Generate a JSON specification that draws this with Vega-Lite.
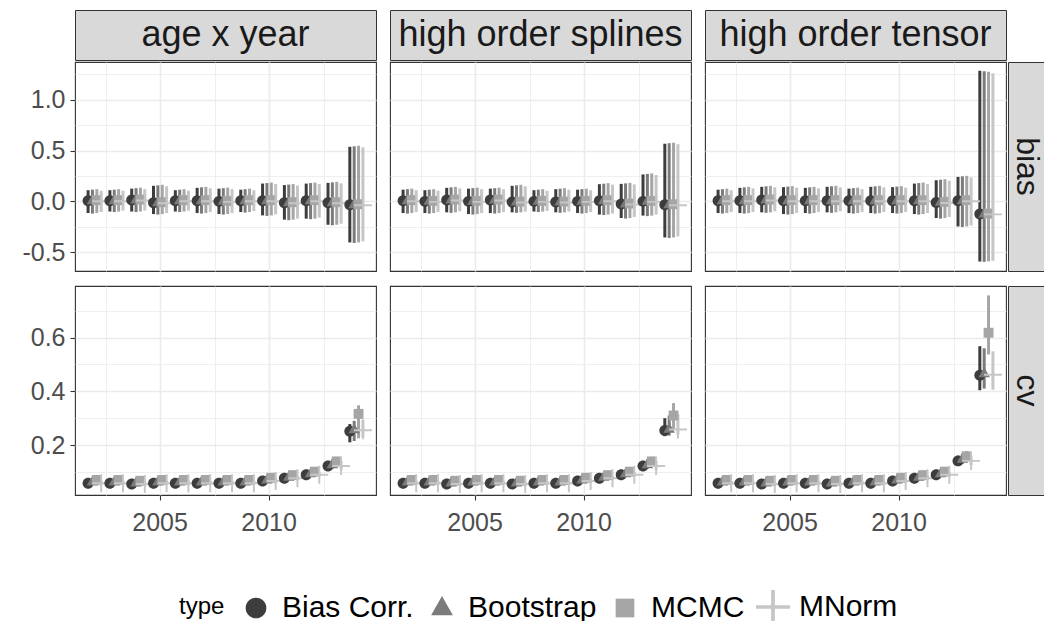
{
"$schema": "https://vega.github.io/schema/vega-lite/v6.json",
"padding": {"left": 12, "top": 9, "right": 0, "bottom": 0},
"config": {
  "font": "Liberation Sans",
  "view": {"stroke": "#333333", "strokeWidth": 1.1},
  "axis": {"gridColor": "#ebebeb", "domain": false, "labelFontSize": 25, "labelColor": "#4d4d4d", "tickColor": "#333333", "tickSize": 5, "tickWidth": 1.1, "labelPadding": 5, "labelOverlap": false, "labelFlush": false}
},
"data": {"values": [
{"m":"A","s":"bias","year":2002,"type":"Bias Corr.","est":0.007,"lo":-0.115,"hi":0.11},{"m":"A","s":"bias","year":2002,"type":"Bootstrap","est":0.01,"lo":-0.12,"hi":0.115},{"m":"A","s":"bias","year":2002,"type":"MCMC","est":0.012,"lo":-0.115,"hi":0.12},{"m":"A","s":"bias","year":2002,"type":"MNorm","est":0.002,"lo":-0.105,"hi":0.105},
{"m":"A","s":"bias","year":2003,"type":"Bias Corr.","est":0.007,"lo":-0.1,"hi":0.11},{"m":"A","s":"bias","year":2003,"type":"Bootstrap","est":0.01,"lo":-0.105,"hi":0.115},{"m":"A","s":"bias","year":2003,"type":"MCMC","est":0.012,"lo":-0.1,"hi":0.12},{"m":"A","s":"bias","year":2003,"type":"MNorm","est":0.002,"lo":-0.09,"hi":0.105},
{"m":"A","s":"bias","year":2004,"type":"Bias Corr.","est":0.013,"lo":-0.1,"hi":0.125},{"m":"A","s":"bias","year":2004,"type":"Bootstrap","est":0.016,"lo":-0.105,"hi":0.13},{"m":"A","s":"bias","year":2004,"type":"MCMC","est":0.018,"lo":-0.1,"hi":0.135},{"m":"A","s":"bias","year":2004,"type":"MNorm","est":0.008,"lo":-0.09,"hi":0.12},
{"m":"A","s":"bias","year":2005,"type":"Bias Corr.","est":-0.013,"lo":-0.125,"hi":0.153},{"m":"A","s":"bias","year":2005,"type":"Bootstrap","est":-0.01,"lo":-0.13,"hi":0.158},{"m":"A","s":"bias","year":2005,"type":"MCMC","est":-0.008,"lo":-0.125,"hi":0.163},{"m":"A","s":"bias","year":2005,"type":"MNorm","est":-0.018,"lo":-0.115,"hi":0.148},
{"m":"A","s":"bias","year":2006,"type":"Bias Corr.","est":0.007,"lo":-0.1,"hi":0.11},{"m":"A","s":"bias","year":2006,"type":"Bootstrap","est":0.01,"lo":-0.105,"hi":0.115},{"m":"A","s":"bias","year":2006,"type":"MCMC","est":0.012,"lo":-0.1,"hi":0.12},{"m":"A","s":"bias","year":2006,"type":"MNorm","est":0.002,"lo":-0.09,"hi":0.105},
{"m":"A","s":"bias","year":2007,"type":"Bias Corr.","est":0.007,"lo":-0.115,"hi":0.133},{"m":"A","s":"bias","year":2007,"type":"Bootstrap","est":0.01,"lo":-0.12,"hi":0.138},{"m":"A","s":"bias","year":2007,"type":"MCMC","est":0.012,"lo":-0.115,"hi":0.143},{"m":"A","s":"bias","year":2007,"type":"MNorm","est":0.002,"lo":-0.105,"hi":0.128},
{"m":"A","s":"bias","year":2008,"type":"Bias Corr.","est":0.0,"lo":-0.125,"hi":0.125},{"m":"A","s":"bias","year":2008,"type":"Bootstrap","est":0.003,"lo":-0.13,"hi":0.13},{"m":"A","s":"bias","year":2008,"type":"MCMC","est":0.005,"lo":-0.125,"hi":0.135},{"m":"A","s":"bias","year":2008,"type":"MNorm","est":-0.005,"lo":-0.115,"hi":0.12},
{"m":"A","s":"bias","year":2009,"type":"Bias Corr.","est":0.007,"lo":-0.105,"hi":0.115},{"m":"A","s":"bias","year":2009,"type":"Bootstrap","est":0.01,"lo":-0.11,"hi":0.12},{"m":"A","s":"bias","year":2009,"type":"MCMC","est":0.012,"lo":-0.105,"hi":0.125},{"m":"A","s":"bias","year":2009,"type":"MNorm","est":0.002,"lo":-0.095,"hi":0.11},
{"m":"A","s":"bias","year":2010,"type":"Bias Corr.","est":0.007,"lo":-0.138,"hi":0.175},{"m":"A","s":"bias","year":2010,"type":"Bootstrap","est":0.01,"lo":-0.143,"hi":0.18},{"m":"A","s":"bias","year":2010,"type":"MCMC","est":0.012,"lo":-0.138,"hi":0.185},{"m":"A","s":"bias","year":2010,"type":"MNorm","est":0.002,"lo":-0.128,"hi":0.17},
{"m":"A","s":"bias","year":2011,"type":"Bias Corr.","est":-0.013,"lo":-0.18,"hi":0.16},{"m":"A","s":"bias","year":2011,"type":"Bootstrap","est":-0.01,"lo":-0.185,"hi":0.165},{"m":"A","s":"bias","year":2011,"type":"MCMC","est":-0.008,"lo":-0.18,"hi":0.17},{"m":"A","s":"bias","year":2011,"type":"MNorm","est":-0.018,"lo":-0.17,"hi":0.155},
{"m":"A","s":"bias","year":2012,"type":"Bias Corr.","est":0.007,"lo":-0.17,"hi":0.175},{"m":"A","s":"bias","year":2012,"type":"Bootstrap","est":0.01,"lo":-0.175,"hi":0.18},{"m":"A","s":"bias","year":2012,"type":"MCMC","est":0.012,"lo":-0.17,"hi":0.185},{"m":"A","s":"bias","year":2012,"type":"MNorm","est":0.002,"lo":-0.16,"hi":0.17},
{"m":"A","s":"bias","year":2013,"type":"Bias Corr.","est":-0.013,"lo":-0.23,"hi":0.182},{"m":"A","s":"bias","year":2013,"type":"Bootstrap","est":-0.01,"lo":-0.235,"hi":0.187},{"m":"A","s":"bias","year":2013,"type":"MCMC","est":-0.008,"lo":-0.23,"hi":0.192},{"m":"A","s":"bias","year":2013,"type":"MNorm","est":-0.018,"lo":-0.22,"hi":0.177},
{"m":"A","s":"bias","year":2014,"type":"Bias Corr.","est":-0.033,"lo":-0.404,"hi":0.537},{"m":"A","s":"bias","year":2014,"type":"Bootstrap","est":-0.03,"lo":-0.409,"hi":0.542},{"m":"A","s":"bias","year":2014,"type":"MCMC","est":-0.028,"lo":-0.404,"hi":0.547},{"m":"A","s":"bias","year":2014,"type":"MNorm","est":-0.038,"lo":-0.394,"hi":0.532},
{"m":"B","s":"bias","year":2002,"type":"Bias Corr.","est":0.007,"lo":-0.115,"hi":0.115},{"m":"B","s":"bias","year":2002,"type":"Bootstrap","est":0.01,"lo":-0.12,"hi":0.12},{"m":"B","s":"bias","year":2002,"type":"MCMC","est":0.012,"lo":-0.115,"hi":0.125},{"m":"B","s":"bias","year":2002,"type":"MNorm","est":0.002,"lo":-0.105,"hi":0.11},
{"m":"B","s":"bias","year":2003,"type":"Bias Corr.","est":0.0,"lo":-0.115,"hi":0.11},{"m":"B","s":"bias","year":2003,"type":"Bootstrap","est":0.003,"lo":-0.12,"hi":0.115},{"m":"B","s":"bias","year":2003,"type":"MCMC","est":0.005,"lo":-0.115,"hi":0.12},{"m":"B","s":"bias","year":2003,"type":"MNorm","est":-0.005,"lo":-0.105,"hi":0.105},
{"m":"B","s":"bias","year":2004,"type":"Bias Corr.","est":0.013,"lo":-0.108,"hi":0.133},{"m":"B","s":"bias","year":2004,"type":"Bootstrap","est":0.016,"lo":-0.113,"hi":0.138},{"m":"B","s":"bias","year":2004,"type":"MCMC","est":0.018,"lo":-0.108,"hi":0.143},{"m":"B","s":"bias","year":2004,"type":"MNorm","est":0.008,"lo":-0.098,"hi":0.128},
{"m":"B","s":"bias","year":2005,"type":"Bias Corr.","est":0.0,"lo":-0.125,"hi":0.125},{"m":"B","s":"bias","year":2005,"type":"Bootstrap","est":0.003,"lo":-0.13,"hi":0.13},{"m":"B","s":"bias","year":2005,"type":"MCMC","est":0.005,"lo":-0.125,"hi":0.135},{"m":"B","s":"bias","year":2005,"type":"MNorm","est":-0.005,"lo":-0.115,"hi":0.12},
{"m":"B","s":"bias","year":2006,"type":"Bias Corr.","est":0.013,"lo":-0.115,"hi":0.125},{"m":"B","s":"bias","year":2006,"type":"Bootstrap","est":0.016,"lo":-0.12,"hi":0.13},{"m":"B","s":"bias","year":2006,"type":"MCMC","est":0.018,"lo":-0.115,"hi":0.135},{"m":"B","s":"bias","year":2006,"type":"MNorm","est":0.008,"lo":-0.105,"hi":0.12},
{"m":"B","s":"bias","year":2007,"type":"Bias Corr.","est":-0.007,"lo":-0.108,"hi":0.153},{"m":"B","s":"bias","year":2007,"type":"Bootstrap","est":-0.004,"lo":-0.113,"hi":0.158},{"m":"B","s":"bias","year":2007,"type":"MCMC","est":-0.002,"lo":-0.108,"hi":0.163},{"m":"B","s":"bias","year":2007,"type":"MNorm","est":-0.012,"lo":-0.098,"hi":0.148},
{"m":"B","s":"bias","year":2008,"type":"Bias Corr.","est":0.0,"lo":-0.1,"hi":0.11},{"m":"B","s":"bias","year":2008,"type":"Bootstrap","est":0.003,"lo":-0.105,"hi":0.115},{"m":"B","s":"bias","year":2008,"type":"MCMC","est":0.005,"lo":-0.1,"hi":0.12},{"m":"B","s":"bias","year":2008,"type":"MNorm","est":-0.005,"lo":-0.09,"hi":0.105},
{"m":"B","s":"bias","year":2009,"type":"Bias Corr.","est":-0.007,"lo":-0.108,"hi":0.12},{"m":"B","s":"bias","year":2009,"type":"Bootstrap","est":-0.004,"lo":-0.113,"hi":0.125},{"m":"B","s":"bias","year":2009,"type":"MCMC","est":-0.002,"lo":-0.108,"hi":0.13},{"m":"B","s":"bias","year":2009,"type":"MNorm","est":-0.012,"lo":-0.098,"hi":0.115},
{"m":"B","s":"bias","year":2010,"type":"Bias Corr.","est":0.0,"lo":-0.115,"hi":0.115},{"m":"B","s":"bias","year":2010,"type":"Bootstrap","est":0.003,"lo":-0.12,"hi":0.12},{"m":"B","s":"bias","year":2010,"type":"MCMC","est":0.005,"lo":-0.115,"hi":0.125},{"m":"B","s":"bias","year":2010,"type":"MNorm","est":-0.005,"lo":-0.105,"hi":0.11},
{"m":"B","s":"bias","year":2011,"type":"Bias Corr.","est":0.007,"lo":-0.13,"hi":0.169},{"m":"B","s":"bias","year":2011,"type":"Bootstrap","est":0.01,"lo":-0.135,"hi":0.174},{"m":"B","s":"bias","year":2011,"type":"MCMC","est":0.012,"lo":-0.13,"hi":0.179},{"m":"B","s":"bias","year":2011,"type":"MNorm","est":0.002,"lo":-0.12,"hi":0.164},
{"m":"B","s":"bias","year":2012,"type":"Bias Corr.","est":-0.026,"lo":-0.164,"hi":0.172},{"m":"B","s":"bias","year":2012,"type":"Bootstrap","est":-0.023,"lo":-0.169,"hi":0.177},{"m":"B","s":"bias","year":2012,"type":"MCMC","est":-0.021,"lo":-0.164,"hi":0.182},{"m":"B","s":"bias","year":2012,"type":"MNorm","est":-0.031,"lo":-0.154,"hi":0.167},
{"m":"B","s":"bias","year":2013,"type":"Bias Corr.","est":0.0,"lo":-0.14,"hi":0.265},{"m":"B","s":"bias","year":2013,"type":"Bootstrap","est":0.003,"lo":-0.145,"hi":0.27},{"m":"B","s":"bias","year":2013,"type":"MCMC","est":0.005,"lo":-0.14,"hi":0.275},{"m":"B","s":"bias","year":2013,"type":"MNorm","est":-0.005,"lo":-0.13,"hi":0.26},
{"m":"B","s":"bias","year":2014,"type":"Bias Corr.","est":-0.033,"lo":-0.355,"hi":0.567},{"m":"B","s":"bias","year":2014,"type":"Bootstrap","est":-0.03,"lo":-0.36,"hi":0.572},{"m":"B","s":"bias","year":2014,"type":"MCMC","est":-0.028,"lo":-0.355,"hi":0.577},{"m":"B","s":"bias","year":2014,"type":"MNorm","est":-0.038,"lo":-0.345,"hi":0.562},
{"m":"C","s":"bias","year":2002,"type":"Bias Corr.","est":0.007,"lo":-0.115,"hi":0.115},{"m":"C","s":"bias","year":2002,"type":"Bootstrap","est":0.01,"lo":-0.12,"hi":0.12},{"m":"C","s":"bias","year":2002,"type":"MCMC","est":0.012,"lo":-0.115,"hi":0.125},{"m":"C","s":"bias","year":2002,"type":"MNorm","est":0.002,"lo":-0.105,"hi":0.11},
{"m":"C","s":"bias","year":2003,"type":"Bias Corr.","est":0.007,"lo":-0.115,"hi":0.133},{"m":"C","s":"bias","year":2003,"type":"Bootstrap","est":0.01,"lo":-0.12,"hi":0.138},{"m":"C","s":"bias","year":2003,"type":"MCMC","est":0.012,"lo":-0.115,"hi":0.143},{"m":"C","s":"bias","year":2003,"type":"MNorm","est":0.002,"lo":-0.105,"hi":0.128},
{"m":"C","s":"bias","year":2004,"type":"Bias Corr.","est":0.013,"lo":-0.108,"hi":0.143},{"m":"C","s":"bias","year":2004,"type":"Bootstrap","est":0.016,"lo":-0.113,"hi":0.148},{"m":"C","s":"bias","year":2004,"type":"MCMC","est":0.018,"lo":-0.108,"hi":0.153},{"m":"C","s":"bias","year":2004,"type":"MNorm","est":0.008,"lo":-0.098,"hi":0.138},
{"m":"C","s":"bias","year":2005,"type":"Bias Corr.","est":0.007,"lo":-0.125,"hi":0.14},{"m":"C","s":"bias","year":2005,"type":"Bootstrap","est":0.01,"lo":-0.13,"hi":0.145},{"m":"C","s":"bias","year":2005,"type":"MCMC","est":0.012,"lo":-0.125,"hi":0.15},{"m":"C","s":"bias","year":2005,"type":"MNorm","est":0.002,"lo":-0.115,"hi":0.135},
{"m":"C","s":"bias","year":2006,"type":"Bias Corr.","est":0.007,"lo":-0.115,"hi":0.133},{"m":"C","s":"bias","year":2006,"type":"Bootstrap","est":0.01,"lo":-0.12,"hi":0.138},{"m":"C","s":"bias","year":2006,"type":"MCMC","est":0.012,"lo":-0.115,"hi":0.143},{"m":"C","s":"bias","year":2006,"type":"MNorm","est":0.002,"lo":-0.105,"hi":0.128},
{"m":"C","s":"bias","year":2007,"type":"Bias Corr.","est":0.007,"lo":-0.108,"hi":0.143},{"m":"C","s":"bias","year":2007,"type":"Bootstrap","est":0.01,"lo":-0.113,"hi":0.148},{"m":"C","s":"bias","year":2007,"type":"MCMC","est":0.012,"lo":-0.108,"hi":0.153},{"m":"C","s":"bias","year":2007,"type":"MNorm","est":0.002,"lo":-0.098,"hi":0.138},
{"m":"C","s":"bias","year":2008,"type":"Bias Corr.","est":0.007,"lo":-0.115,"hi":0.125},{"m":"C","s":"bias","year":2008,"type":"Bootstrap","est":0.01,"lo":-0.12,"hi":0.13},{"m":"C","s":"bias","year":2008,"type":"MCMC","est":0.012,"lo":-0.115,"hi":0.135},{"m":"C","s":"bias","year":2008,"type":"MNorm","est":0.002,"lo":-0.105,"hi":0.12},
{"m":"C","s":"bias","year":2009,"type":"Bias Corr.","est":0.007,"lo":-0.115,"hi":0.143},{"m":"C","s":"bias","year":2009,"type":"Bootstrap","est":0.01,"lo":-0.12,"hi":0.148},{"m":"C","s":"bias","year":2009,"type":"MCMC","est":0.012,"lo":-0.115,"hi":0.153},{"m":"C","s":"bias","year":2009,"type":"MNorm","est":0.002,"lo":-0.105,"hi":0.138},
{"m":"C","s":"bias","year":2010,"type":"Bias Corr.","est":0.007,"lo":-0.115,"hi":0.14},{"m":"C","s":"bias","year":2010,"type":"Bootstrap","est":0.01,"lo":-0.12,"hi":0.145},{"m":"C","s":"bias","year":2010,"type":"MCMC","est":0.012,"lo":-0.115,"hi":0.15},{"m":"C","s":"bias","year":2010,"type":"MNorm","est":0.002,"lo":-0.105,"hi":0.135},
{"m":"C","s":"bias","year":2011,"type":"Bias Corr.","est":0.007,"lo":-0.125,"hi":0.175},{"m":"C","s":"bias","year":2011,"type":"Bootstrap","est":0.01,"lo":-0.13,"hi":0.18},{"m":"C","s":"bias","year":2011,"type":"MCMC","est":0.012,"lo":-0.125,"hi":0.185},{"m":"C","s":"bias","year":2011,"type":"MNorm","est":0.002,"lo":-0.115,"hi":0.17},
{"m":"C","s":"bias","year":2012,"type":"Bias Corr.","est":-0.01,"lo":-0.164,"hi":0.208},{"m":"C","s":"bias","year":2012,"type":"Bootstrap","est":-0.007,"lo":-0.169,"hi":0.213},{"m":"C","s":"bias","year":2012,"type":"MCMC","est":-0.005,"lo":-0.164,"hi":0.218},{"m":"C","s":"bias","year":2012,"type":"MNorm","est":-0.015,"lo":-0.154,"hi":0.203},
{"m":"C","s":"bias","year":2013,"type":"Bias Corr.","est":0.007,"lo":-0.247,"hi":0.241},{"m":"C","s":"bias","year":2013,"type":"Bootstrap","est":0.01,"lo":-0.252,"hi":0.246},{"m":"C","s":"bias","year":2013,"type":"MCMC","est":0.012,"lo":-0.247,"hi":0.251},{"m":"C","s":"bias","year":2013,"type":"MNorm","est":0.002,"lo":-0.237,"hi":0.236},
{"m":"C","s":"bias","year":2014,"type":"Bias Corr.","est":-0.125,"lo":-0.592,"hi":1.285},{"m":"C","s":"bias","year":2014,"type":"Bootstrap","est":-0.122,"lo":-0.595,"hi":1.28},{"m":"C","s":"bias","year":2014,"type":"MCMC","est":-0.12,"lo":-0.59,"hi":1.275},{"m":"C","s":"bias","year":2014,"type":"MNorm","est":-0.128,"lo":-0.585,"hi":1.26},
{"m":"A","s":"cv","year":2002,"type":"Bias Corr.","est":0.058,"lo":0.05,"hi":0.066},{"m":"A","s":"cv","year":2002,"type":"Bootstrap","est":0.063,"lo":0.054,"hi":0.072},{"m":"A","s":"cv","year":2002,"type":"MCMC","est":0.07,"lo":0.061,"hi":0.079},{"m":"A","s":"cv","year":2002,"type":"MNorm","est":0.058,"lo":0.051,"hi":0.067},
{"m":"A","s":"cv","year":2003,"type":"Bias Corr.","est":0.058,"lo":0.05,"hi":0.066},{"m":"A","s":"cv","year":2003,"type":"Bootstrap","est":0.063,"lo":0.054,"hi":0.072},{"m":"A","s":"cv","year":2003,"type":"MCMC","est":0.07,"lo":0.061,"hi":0.079},{"m":"A","s":"cv","year":2003,"type":"MNorm","est":0.058,"lo":0.051,"hi":0.067},
{"m":"A","s":"cv","year":2004,"type":"Bias Corr.","est":0.055,"lo":0.047,"hi":0.063},{"m":"A","s":"cv","year":2004,"type":"Bootstrap","est":0.06,"lo":0.051,"hi":0.069},{"m":"A","s":"cv","year":2004,"type":"MCMC","est":0.067,"lo":0.058,"hi":0.076},{"m":"A","s":"cv","year":2004,"type":"MNorm","est":0.055,"lo":0.048,"hi":0.064},
{"m":"A","s":"cv","year":2005,"type":"Bias Corr.","est":0.058,"lo":0.05,"hi":0.066},{"m":"A","s":"cv","year":2005,"type":"Bootstrap","est":0.063,"lo":0.054,"hi":0.072},{"m":"A","s":"cv","year":2005,"type":"MCMC","est":0.07,"lo":0.061,"hi":0.079},{"m":"A","s":"cv","year":2005,"type":"MNorm","est":0.058,"lo":0.051,"hi":0.067},
{"m":"A","s":"cv","year":2006,"type":"Bias Corr.","est":0.058,"lo":0.05,"hi":0.066},{"m":"A","s":"cv","year":2006,"type":"Bootstrap","est":0.063,"lo":0.054,"hi":0.072},{"m":"A","s":"cv","year":2006,"type":"MCMC","est":0.07,"lo":0.061,"hi":0.079},{"m":"A","s":"cv","year":2006,"type":"MNorm","est":0.058,"lo":0.051,"hi":0.067},
{"m":"A","s":"cv","year":2007,"type":"Bias Corr.","est":0.058,"lo":0.05,"hi":0.066},{"m":"A","s":"cv","year":2007,"type":"Bootstrap","est":0.063,"lo":0.054,"hi":0.072},{"m":"A","s":"cv","year":2007,"type":"MCMC","est":0.07,"lo":0.061,"hi":0.079},{"m":"A","s":"cv","year":2007,"type":"MNorm","est":0.058,"lo":0.051,"hi":0.067},
{"m":"A","s":"cv","year":2008,"type":"Bias Corr.","est":0.058,"lo":0.05,"hi":0.066},{"m":"A","s":"cv","year":2008,"type":"Bootstrap","est":0.063,"lo":0.054,"hi":0.072},{"m":"A","s":"cv","year":2008,"type":"MCMC","est":0.07,"lo":0.061,"hi":0.079},{"m":"A","s":"cv","year":2008,"type":"MNorm","est":0.058,"lo":0.051,"hi":0.067},
{"m":"A","s":"cv","year":2009,"type":"Bias Corr.","est":0.058,"lo":0.05,"hi":0.066},{"m":"A","s":"cv","year":2009,"type":"Bootstrap","est":0.063,"lo":0.054,"hi":0.072},{"m":"A","s":"cv","year":2009,"type":"MCMC","est":0.07,"lo":0.061,"hi":0.079},{"m":"A","s":"cv","year":2009,"type":"MNorm","est":0.058,"lo":0.051,"hi":0.067},
{"m":"A","s":"cv","year":2010,"type":"Bias Corr.","est":0.066,"lo":0.058,"hi":0.074},{"m":"A","s":"cv","year":2010,"type":"Bootstrap","est":0.071,"lo":0.062,"hi":0.08},{"m":"A","s":"cv","year":2010,"type":"MCMC","est":0.078,"lo":0.069,"hi":0.087},{"m":"A","s":"cv","year":2010,"type":"MNorm","est":0.066,"lo":0.059,"hi":0.075},
{"m":"A","s":"cv","year":2011,"type":"Bias Corr.","est":0.076,"lo":0.068,"hi":0.084},{"m":"A","s":"cv","year":2011,"type":"Bootstrap","est":0.081,"lo":0.072,"hi":0.09},{"m":"A","s":"cv","year":2011,"type":"MCMC","est":0.088,"lo":0.079,"hi":0.097},{"m":"A","s":"cv","year":2011,"type":"MNorm","est":0.076,"lo":0.069,"hi":0.085},
{"m":"A","s":"cv","year":2012,"type":"Bias Corr.","est":0.089,"lo":0.081,"hi":0.097},{"m":"A","s":"cv","year":2012,"type":"Bootstrap","est":0.094,"lo":0.085,"hi":0.103},{"m":"A","s":"cv","year":2012,"type":"MCMC","est":0.101,"lo":0.092,"hi":0.11},{"m":"A","s":"cv","year":2012,"type":"MNorm","est":0.089,"lo":0.082,"hi":0.098},
{"m":"A","s":"cv","year":2013,"type":"Bias Corr.","est":0.122,"lo":0.107,"hi":0.138},{"m":"A","s":"cv","year":2013,"type":"Bootstrap","est":0.128,"lo":0.112,"hi":0.146},{"m":"A","s":"cv","year":2013,"type":"MCMC","est":0.139,"lo":0.122,"hi":0.156},{"m":"A","s":"cv","year":2013,"type":"MNorm","est":0.122,"lo":0.108,"hi":0.14},
{"m":"A","s":"cv","year":2014,"type":"Bias Corr.","est":0.251,"lo":0.21,"hi":0.278},{"m":"A","s":"cv","year":2014,"type":"Bootstrap","est":0.258,"lo":0.215,"hi":0.29},{"m":"A","s":"cv","year":2014,"type":"MCMC","est":0.316,"lo":0.225,"hi":0.348},{"m":"A","s":"cv","year":2014,"type":"MNorm","est":0.255,"lo":0.23,"hi":0.295},
{"m":"B","s":"cv","year":2002,"type":"Bias Corr.","est":0.058,"lo":0.05,"hi":0.066},{"m":"B","s":"cv","year":2002,"type":"Bootstrap","est":0.063,"lo":0.054,"hi":0.072},{"m":"B","s":"cv","year":2002,"type":"MCMC","est":0.07,"lo":0.061,"hi":0.079},{"m":"B","s":"cv","year":2002,"type":"MNorm","est":0.058,"lo":0.051,"hi":0.067},
{"m":"B","s":"cv","year":2003,"type":"Bias Corr.","est":0.058,"lo":0.05,"hi":0.066},{"m":"B","s":"cv","year":2003,"type":"Bootstrap","est":0.063,"lo":0.054,"hi":0.072},{"m":"B","s":"cv","year":2003,"type":"MCMC","est":0.07,"lo":0.061,"hi":0.079},{"m":"B","s":"cv","year":2003,"type":"MNorm","est":0.058,"lo":0.051,"hi":0.067},
{"m":"B","s":"cv","year":2004,"type":"Bias Corr.","est":0.055,"lo":0.047,"hi":0.063},{"m":"B","s":"cv","year":2004,"type":"Bootstrap","est":0.06,"lo":0.051,"hi":0.069},{"m":"B","s":"cv","year":2004,"type":"MCMC","est":0.067,"lo":0.058,"hi":0.076},{"m":"B","s":"cv","year":2004,"type":"MNorm","est":0.055,"lo":0.048,"hi":0.064},
{"m":"B","s":"cv","year":2005,"type":"Bias Corr.","est":0.058,"lo":0.05,"hi":0.066},{"m":"B","s":"cv","year":2005,"type":"Bootstrap","est":0.063,"lo":0.054,"hi":0.072},{"m":"B","s":"cv","year":2005,"type":"MCMC","est":0.07,"lo":0.061,"hi":0.079},{"m":"B","s":"cv","year":2005,"type":"MNorm","est":0.058,"lo":0.051,"hi":0.067},
{"m":"B","s":"cv","year":2006,"type":"Bias Corr.","est":0.058,"lo":0.05,"hi":0.066},{"m":"B","s":"cv","year":2006,"type":"Bootstrap","est":0.063,"lo":0.054,"hi":0.072},{"m":"B","s":"cv","year":2006,"type":"MCMC","est":0.07,"lo":0.061,"hi":0.079},{"m":"B","s":"cv","year":2006,"type":"MNorm","est":0.058,"lo":0.051,"hi":0.067},
{"m":"B","s":"cv","year":2007,"type":"Bias Corr.","est":0.055,"lo":0.047,"hi":0.063},{"m":"B","s":"cv","year":2007,"type":"Bootstrap","est":0.06,"lo":0.051,"hi":0.069},{"m":"B","s":"cv","year":2007,"type":"MCMC","est":0.067,"lo":0.058,"hi":0.076},{"m":"B","s":"cv","year":2007,"type":"MNorm","est":0.055,"lo":0.048,"hi":0.064},
{"m":"B","s":"cv","year":2008,"type":"Bias Corr.","est":0.058,"lo":0.05,"hi":0.066},{"m":"B","s":"cv","year":2008,"type":"Bootstrap","est":0.063,"lo":0.054,"hi":0.072},{"m":"B","s":"cv","year":2008,"type":"MCMC","est":0.07,"lo":0.061,"hi":0.079},{"m":"B","s":"cv","year":2008,"type":"MNorm","est":0.058,"lo":0.051,"hi":0.067},
{"m":"B","s":"cv","year":2009,"type":"Bias Corr.","est":0.058,"lo":0.05,"hi":0.066},{"m":"B","s":"cv","year":2009,"type":"Bootstrap","est":0.063,"lo":0.054,"hi":0.072},{"m":"B","s":"cv","year":2009,"type":"MCMC","est":0.07,"lo":0.061,"hi":0.079},{"m":"B","s":"cv","year":2009,"type":"MNorm","est":0.058,"lo":0.051,"hi":0.067},
{"m":"B","s":"cv","year":2010,"type":"Bias Corr.","est":0.066,"lo":0.058,"hi":0.074},{"m":"B","s":"cv","year":2010,"type":"Bootstrap","est":0.071,"lo":0.062,"hi":0.08},{"m":"B","s":"cv","year":2010,"type":"MCMC","est":0.078,"lo":0.069,"hi":0.087},{"m":"B","s":"cv","year":2010,"type":"MNorm","est":0.066,"lo":0.059,"hi":0.075},
{"m":"B","s":"cv","year":2011,"type":"Bias Corr.","est":0.076,"lo":0.068,"hi":0.084},{"m":"B","s":"cv","year":2011,"type":"Bootstrap","est":0.081,"lo":0.072,"hi":0.09},{"m":"B","s":"cv","year":2011,"type":"MCMC","est":0.088,"lo":0.079,"hi":0.097},{"m":"B","s":"cv","year":2011,"type":"MNorm","est":0.076,"lo":0.069,"hi":0.085},
{"m":"B","s":"cv","year":2012,"type":"Bias Corr.","est":0.089,"lo":0.081,"hi":0.097},{"m":"B","s":"cv","year":2012,"type":"Bootstrap","est":0.094,"lo":0.085,"hi":0.103},{"m":"B","s":"cv","year":2012,"type":"MCMC","est":0.101,"lo":0.092,"hi":0.11},{"m":"B","s":"cv","year":2012,"type":"MNorm","est":0.089,"lo":0.082,"hi":0.098},
{"m":"B","s":"cv","year":2013,"type":"Bias Corr.","est":0.122,"lo":0.107,"hi":0.138},{"m":"B","s":"cv","year":2013,"type":"Bootstrap","est":0.128,"lo":0.112,"hi":0.146},{"m":"B","s":"cv","year":2013,"type":"MCMC","est":0.139,"lo":0.122,"hi":0.156},{"m":"B","s":"cv","year":2013,"type":"MNorm","est":0.122,"lo":0.108,"hi":0.14},
{"m":"B","s":"cv","year":2014,"type":"Bias Corr.","est":0.254,"lo":0.233,"hi":0.3},{"m":"B","s":"cv","year":2014,"type":"Bootstrap","est":0.26,"lo":0.235,"hi":0.31},{"m":"B","s":"cv","year":2014,"type":"MCMC","est":0.31,"lo":0.257,"hi":0.356},{"m":"B","s":"cv","year":2014,"type":"MNorm","est":0.258,"lo":0.24,"hi":0.315},
{"m":"C","s":"cv","year":2002,"type":"Bias Corr.","est":0.058,"lo":0.05,"hi":0.066},{"m":"C","s":"cv","year":2002,"type":"Bootstrap","est":0.063,"lo":0.054,"hi":0.072},{"m":"C","s":"cv","year":2002,"type":"MCMC","est":0.07,"lo":0.061,"hi":0.079},{"m":"C","s":"cv","year":2002,"type":"MNorm","est":0.058,"lo":0.051,"hi":0.067},
{"m":"C","s":"cv","year":2003,"type":"Bias Corr.","est":0.058,"lo":0.05,"hi":0.066},{"m":"C","s":"cv","year":2003,"type":"Bootstrap","est":0.063,"lo":0.054,"hi":0.072},{"m":"C","s":"cv","year":2003,"type":"MCMC","est":0.07,"lo":0.061,"hi":0.079},{"m":"C","s":"cv","year":2003,"type":"MNorm","est":0.058,"lo":0.051,"hi":0.067},
{"m":"C","s":"cv","year":2004,"type":"Bias Corr.","est":0.055,"lo":0.047,"hi":0.063},{"m":"C","s":"cv","year":2004,"type":"Bootstrap","est":0.06,"lo":0.051,"hi":0.069},{"m":"C","s":"cv","year":2004,"type":"MCMC","est":0.067,"lo":0.058,"hi":0.076},{"m":"C","s":"cv","year":2004,"type":"MNorm","est":0.055,"lo":0.048,"hi":0.064},
{"m":"C","s":"cv","year":2005,"type":"Bias Corr.","est":0.058,"lo":0.05,"hi":0.066},{"m":"C","s":"cv","year":2005,"type":"Bootstrap","est":0.063,"lo":0.054,"hi":0.072},{"m":"C","s":"cv","year":2005,"type":"MCMC","est":0.07,"lo":0.061,"hi":0.079},{"m":"C","s":"cv","year":2005,"type":"MNorm","est":0.058,"lo":0.051,"hi":0.067},
{"m":"C","s":"cv","year":2006,"type":"Bias Corr.","est":0.058,"lo":0.05,"hi":0.066},{"m":"C","s":"cv","year":2006,"type":"Bootstrap","est":0.063,"lo":0.054,"hi":0.072},{"m":"C","s":"cv","year":2006,"type":"MCMC","est":0.07,"lo":0.061,"hi":0.079},{"m":"C","s":"cv","year":2006,"type":"MNorm","est":0.058,"lo":0.051,"hi":0.067},
{"m":"C","s":"cv","year":2007,"type":"Bias Corr.","est":0.055,"lo":0.047,"hi":0.063},{"m":"C","s":"cv","year":2007,"type":"Bootstrap","est":0.06,"lo":0.051,"hi":0.069},{"m":"C","s":"cv","year":2007,"type":"MCMC","est":0.067,"lo":0.058,"hi":0.076},{"m":"C","s":"cv","year":2007,"type":"MNorm","est":0.055,"lo":0.048,"hi":0.064},
{"m":"C","s":"cv","year":2008,"type":"Bias Corr.","est":0.058,"lo":0.05,"hi":0.066},{"m":"C","s":"cv","year":2008,"type":"Bootstrap","est":0.063,"lo":0.054,"hi":0.072},{"m":"C","s":"cv","year":2008,"type":"MCMC","est":0.07,"lo":0.061,"hi":0.079},{"m":"C","s":"cv","year":2008,"type":"MNorm","est":0.058,"lo":0.051,"hi":0.067},
{"m":"C","s":"cv","year":2009,"type":"Bias Corr.","est":0.058,"lo":0.05,"hi":0.066},{"m":"C","s":"cv","year":2009,"type":"Bootstrap","est":0.063,"lo":0.054,"hi":0.072},{"m":"C","s":"cv","year":2009,"type":"MCMC","est":0.07,"lo":0.061,"hi":0.079},{"m":"C","s":"cv","year":2009,"type":"MNorm","est":0.058,"lo":0.051,"hi":0.067},
{"m":"C","s":"cv","year":2010,"type":"Bias Corr.","est":0.066,"lo":0.058,"hi":0.074},{"m":"C","s":"cv","year":2010,"type":"Bootstrap","est":0.071,"lo":0.062,"hi":0.08},{"m":"C","s":"cv","year":2010,"type":"MCMC","est":0.078,"lo":0.069,"hi":0.087},{"m":"C","s":"cv","year":2010,"type":"MNorm","est":0.066,"lo":0.059,"hi":0.075},
{"m":"C","s":"cv","year":2011,"type":"Bias Corr.","est":0.076,"lo":0.068,"hi":0.084},{"m":"C","s":"cv","year":2011,"type":"Bootstrap","est":0.081,"lo":0.072,"hi":0.09},{"m":"C","s":"cv","year":2011,"type":"MCMC","est":0.088,"lo":0.079,"hi":0.097},{"m":"C","s":"cv","year":2011,"type":"MNorm","est":0.076,"lo":0.069,"hi":0.085},
{"m":"C","s":"cv","year":2012,"type":"Bias Corr.","est":0.089,"lo":0.081,"hi":0.097},{"m":"C","s":"cv","year":2012,"type":"Bootstrap","est":0.094,"lo":0.085,"hi":0.103},{"m":"C","s":"cv","year":2012,"type":"MCMC","est":0.101,"lo":0.092,"hi":0.11},{"m":"C","s":"cv","year":2012,"type":"MNorm","est":0.089,"lo":0.082,"hi":0.098},
{"m":"C","s":"cv","year":2013,"type":"Bias Corr.","est":0.141,"lo":0.125,"hi":0.16},{"m":"C","s":"cv","year":2013,"type":"Bootstrap","est":0.148,"lo":0.13,"hi":0.168},{"m":"C","s":"cv","year":2013,"type":"MCMC","est":0.158,"lo":0.138,"hi":0.178},{"m":"C","s":"cv","year":2013,"type":"MNorm","est":0.141,"lo":0.125,"hi":0.16},
{"m":"C","s":"cv","year":2014,"type":"Bias Corr.","est":0.46,"lo":0.404,"hi":0.568},{"m":"C","s":"cv","year":2014,"type":"Bootstrap","est":0.466,"lo":0.41,"hi":0.56},{"m":"C","s":"cv","year":2014,"type":"MCMC","est":0.618,"lo":0.537,"hi":0.757},{"m":"C","s":"cv","year":2014,"type":"MNorm","est":0.462,"lo":0.406,"hi":0.549}
]},
"spacing": 0,
"vconcat": [
 {"hconcat": [
   {"width": 301, "height": 50, "view": {"fill": "#d9d9d9", "stroke": "#333333"}, "data": {"values": [{"label": "age x year"}]}, "mark": {"type": "text", "fontSize": 36, "color": "#1a1a1a", "baseline": "middle"}, "encoding": {"text": {"field": "label"}}},
   {"width": 12, "height": 50, "data": {"values": []}, "mark": "text", "encoding": {}, "view": {"stroke": null}},
   {"width": 301, "height": 50, "view": {"fill": "#d9d9d9", "stroke": "#333333"}, "data": {"values": [{"label": "high order splines"}]}, "mark": {"type": "text", "fontSize": 36, "color": "#1a1a1a", "baseline": "middle"}, "encoding": {"text": {"field": "label"}}},
   {"width": 12, "height": 50, "data": {"values": []}, "mark": "text", "encoding": {}, "view": {"stroke": null}},
   {"width": 301, "height": 50, "view": {"fill": "#d9d9d9", "stroke": "#333333"}, "data": {"values": [{"label": "high order tensor"}]}, "mark": {"type": "text", "fontSize": 36, "color": "#1a1a1a", "baseline": "middle"}, "encoding": {"text": {"field": "label"}}}
 ], "spacing": 0},
 {"hconcat": [
   {"width": 301, "height": 209,
    "transform": [{"filter": "datum.m === 'A' && datum.s === 'bias'"}],
    "resolve": {"scale": {"x": "independent"}, "axis": {"x": "independent"}},
    "layer": [
      {"mark": {"type": "rule", "opacity": 0}, "encoding": {"x": {"field": "year", "type": "quantitative", "scale": {"domain": [2001.1, 2014.9], "nice": false, "zero": false}, "axis": {"orient": "top", "values": [2002.5, 2005, 2007.5, 2010, 2012.5], "grid": true, "gridWidth": {"condition": {"test": "datum.value % 5 === 0", "value": 1.6}, "value": 0.8}, "labels": false, "ticks": false, "domain": false, "title": null, "minExtent": 0, "maxExtent": 0}}}},
      {"mark": {"type": "rule", "strokeWidth": 3}, "encoding": {
        "x": {"field": "year", "type": "ordinal", "scale": {"type": "band", "domain": [2002,2003,2004,2005,2006,2007,2008,2009,2010,2011,2012,2013,2014], "paddingInner": 0, "paddingOuter": 0.4}, "axis": null},
        "xOffset": {"field": "type", "type": "nominal", "scale": {"type": "point", "domain": ["Bias Corr.", "Bootstrap", "MCMC", "MNorm"], "padding": 2.135}},
        "y": {"field": "lo", "type": "quantitative", "scale": {"domain": [-0.685, 1.371], "nice": false, "zero": false}, "axis": {"values": [-0.5, -0.25, 0, 0.25, 0.5, 0.75, 1, 1.25], "grid": true, "gridWidth": {"condition": {"test": "datum.value % 0.5 === 0", "value": 1.6}, "value": 0.8}, "labelExpr": "datum.value % 0.5 === 0 ? (datum.value < 0 ? '-' : '') + format(abs(datum.value), '.1f') : ''", "tickOpacity": {"condition": {"test": "datum.value % 0.5 === 0", "value": 1}, "value": 0}, "title": null, "minExtent": 62, "maxExtent": 62}},
        "y2": {"field": "hi"},
        "stroke": {"field": "type", "type": "nominal", "scale": {"domain": ["MNorm", "MCMC", "Bootstrap", "Bias Corr."], "range": ["#c6c6c6", "#a5a5a5", "#7b7b7b", "#3d3d3d"]}, "legend": null}}},
      {"mark": {"type": "point", "filled": true, "opacity": 1, "size": 324}, "encoding": {
        "x": {"field": "year", "type": "ordinal", "scale": {"type": "band", "domain": [2002,2003,2004,2005,2006,2007,2008,2009,2010,2011,2012,2013,2014], "paddingInner": 0, "paddingOuter": 0.4}, "axis": null},
        "xOffset": {"field": "type", "type": "nominal", "scale": {"type": "point", "domain": ["Bias Corr.", "Bootstrap", "MCMC", "MNorm"], "padding": 2.135}},
        "y": {"field": "est", "type": "quantitative", "scale": {"domain": [-0.685, 1.371], "nice": false, "zero": false}, "axis": {"values": [-0.5, -0.25, 0, 0.25, 0.5, 0.75, 1, 1.25], "grid": true, "gridWidth": {"condition": {"test": "datum.value % 0.5 === 0", "value": 1.6}, "value": 0.8}, "labelExpr": "datum.value % 0.5 === 0 ? (datum.value < 0 ? '-' : '') + format(abs(datum.value), '.1f') : ''", "tickOpacity": {"condition": {"test": "datum.value % 0.5 === 0", "value": 1}, "value": 0}, "title": null, "minExtent": 62, "maxExtent": 62}},
        "color": {"field": "type", "type": "nominal", "scale": {"domain": ["Bias Corr.", "Bootstrap", "MCMC", "MNorm"], "range": ["#3d3d3d", "#7b7b7b", "#a5a5a5", "#c6c6c6"]},
          "legend": {"title": "type", "orient": "none", "legendX": 104, "legendY": 579, "direction": "horizontal", "titleOrient": "left", "titleFontSize": 24, "titleFontWeight": "normal", "titleColor": "#000000", "titlePadding": 13, "labelFontSize": 30, "labelColor": "#000000", "labelOffset": 8, "symbolSize": 1156, "columnPadding": 10}},
        "shape": {"field": "type", "type": "nominal", "scale": {"domain": ["Bias Corr.", "Bootstrap", "MCMC", "MNorm"], "range": ["M-0.61,0A0.61,0.61 0 1,1 0.61,0A0.61,0.61 0 1,1 -0.61,0Z", "M0,-0.7L0.64,0.42L-0.64,0.42Z", "M-0.55,-0.55H0.55V0.55H-0.55Z", "M-1,-0.11H1V0.11H-1ZM-0.11,-1H0.11V1H-0.11Z"]},
          "legend": {"title": "type", "orient": "none", "legendX": 104, "legendY": 579, "direction": "horizontal", "titleOrient": "left", "titleFontSize": 24, "titleFontWeight": "normal", "titleColor": "#000000", "titlePadding": 13, "labelFontSize": 30, "labelColor": "#000000", "labelOffset": 8, "symbolSize": 1156, "columnPadding": 10}}}}
    ]},
   {"width": 12, "height": 209, "data": {"values": []}, "mark": "text", "encoding": {}, "view": {"stroke": null}},
   {"width": 301, "height": 209,
    "transform": [{"filter": "datum.m === 'B' && datum.s === 'bias'"}],
    "resolve": {"scale": {"x": "independent"}, "axis": {"x": "independent"}},
    "layer": [
      {"mark": {"type": "rule", "opacity": 0}, "encoding": {"x": {"field": "year", "type": "quantitative", "scale": {"domain": [2001.1, 2014.9], "nice": false, "zero": false}, "axis": {"orient": "top", "values": [2002.5, 2005, 2007.5, 2010, 2012.5], "grid": true, "gridWidth": {"condition": {"test": "datum.value % 5 === 0", "value": 1.6}, "value": 0.8}, "labels": false, "ticks": false, "domain": false, "title": null, "minExtent": 0, "maxExtent": 0}}}},
      {"mark": {"type": "rule", "strokeWidth": 3}, "encoding": {
        "x": {"field": "year", "type": "ordinal", "scale": {"type": "band", "domain": [2002,2003,2004,2005,2006,2007,2008,2009,2010,2011,2012,2013,2014], "paddingInner": 0, "paddingOuter": 0.4}, "axis": null},
        "xOffset": {"field": "type", "type": "nominal", "scale": {"type": "point", "domain": ["Bias Corr.", "Bootstrap", "MCMC", "MNorm"], "padding": 2.135}},
        "y": {"field": "lo", "type": "quantitative", "scale": {"domain": [-0.685, 1.371], "nice": false, "zero": false}, "axis": {"values": [-0.5, -0.25, 0, 0.25, 0.5, 0.75, 1, 1.25], "grid": true, "gridWidth": {"condition": {"test": "datum.value % 0.5 === 0", "value": 1.6}, "value": 0.8}, "labels": false, "ticks": false, "title": null, "minExtent": 0, "maxExtent": 0}},
        "y2": {"field": "hi"},
        "stroke": {"field": "type", "type": "nominal", "scale": {"domain": ["MNorm", "MCMC", "Bootstrap", "Bias Corr."], "range": ["#c6c6c6", "#a5a5a5", "#7b7b7b", "#3d3d3d"]}, "legend": null}}},
      {"mark": {"type": "point", "filled": true, "opacity": 1, "size": 324}, "encoding": {
        "x": {"field": "year", "type": "ordinal", "scale": {"type": "band", "domain": [2002,2003,2004,2005,2006,2007,2008,2009,2010,2011,2012,2013,2014], "paddingInner": 0, "paddingOuter": 0.4}, "axis": null},
        "xOffset": {"field": "type", "type": "nominal", "scale": {"type": "point", "domain": ["Bias Corr.", "Bootstrap", "MCMC", "MNorm"], "padding": 2.135}},
        "y": {"field": "est", "type": "quantitative", "scale": {"domain": [-0.685, 1.371], "nice": false, "zero": false}, "axis": {"values": [-0.5, -0.25, 0, 0.25, 0.5, 0.75, 1, 1.25], "grid": true, "gridWidth": {"condition": {"test": "datum.value % 0.5 === 0", "value": 1.6}, "value": 0.8}, "labels": false, "ticks": false, "title": null, "minExtent": 0, "maxExtent": 0}},
        "color": {"field": "type", "type": "nominal", "scale": {"domain": ["Bias Corr.", "Bootstrap", "MCMC", "MNorm"], "range": ["#3d3d3d", "#7b7b7b", "#a5a5a5", "#c6c6c6"]}, "legend": null},
        "shape": {"field": "type", "type": "nominal", "scale": {"domain": ["Bias Corr.", "Bootstrap", "MCMC", "MNorm"], "range": ["M-0.61,0A0.61,0.61 0 1,1 0.61,0A0.61,0.61 0 1,1 -0.61,0Z", "M0,-0.7L0.64,0.42L-0.64,0.42Z", "M-0.55,-0.55H0.55V0.55H-0.55Z", "M-1,-0.11H1V0.11H-1ZM-0.11,-1H0.11V1H-0.11Z"]}, "legend": null}}}
    ]},
   {"width": 12, "height": 209, "data": {"values": []}, "mark": "text", "encoding": {}, "view": {"stroke": null}},
   {"width": 301, "height": 209,
    "transform": [{"filter": "datum.m === 'C' && datum.s === 'bias'"}],
    "resolve": {"scale": {"x": "independent"}, "axis": {"x": "independent"}},
    "layer": [
      {"mark": {"type": "rule", "opacity": 0}, "encoding": {"x": {"field": "year", "type": "quantitative", "scale": {"domain": [2001.1, 2014.9], "nice": false, "zero": false}, "axis": {"orient": "top", "values": [2002.5, 2005, 2007.5, 2010, 2012.5], "grid": true, "gridWidth": {"condition": {"test": "datum.value % 5 === 0", "value": 1.6}, "value": 0.8}, "labels": false, "ticks": false, "domain": false, "title": null, "minExtent": 0, "maxExtent": 0}}}},
      {"mark": {"type": "rule", "strokeWidth": 3}, "encoding": {
        "x": {"field": "year", "type": "ordinal", "scale": {"type": "band", "domain": [2002,2003,2004,2005,2006,2007,2008,2009,2010,2011,2012,2013,2014], "paddingInner": 0, "paddingOuter": 0.4}, "axis": null},
        "xOffset": {"field": "type", "type": "nominal", "scale": {"type": "point", "domain": ["Bias Corr.", "Bootstrap", "MCMC", "MNorm"], "padding": 2.135}},
        "y": {"field": "lo", "type": "quantitative", "scale": {"domain": [-0.685, 1.371], "nice": false, "zero": false}, "axis": {"values": [-0.5, -0.25, 0, 0.25, 0.5, 0.75, 1, 1.25], "grid": true, "gridWidth": {"condition": {"test": "datum.value % 0.5 === 0", "value": 1.6}, "value": 0.8}, "labels": false, "ticks": false, "title": null, "minExtent": 0, "maxExtent": 0}},
        "y2": {"field": "hi"},
        "stroke": {"field": "type", "type": "nominal", "scale": {"domain": ["MNorm", "MCMC", "Bootstrap", "Bias Corr."], "range": ["#c6c6c6", "#a5a5a5", "#7b7b7b", "#3d3d3d"]}, "legend": null}}},
      {"mark": {"type": "point", "filled": true, "opacity": 1, "size": 324}, "encoding": {
        "x": {"field": "year", "type": "ordinal", "scale": {"type": "band", "domain": [2002,2003,2004,2005,2006,2007,2008,2009,2010,2011,2012,2013,2014], "paddingInner": 0, "paddingOuter": 0.4}, "axis": null},
        "xOffset": {"field": "type", "type": "nominal", "scale": {"type": "point", "domain": ["Bias Corr.", "Bootstrap", "MCMC", "MNorm"], "padding": 2.135}},
        "y": {"field": "est", "type": "quantitative", "scale": {"domain": [-0.685, 1.371], "nice": false, "zero": false}, "axis": {"values": [-0.5, -0.25, 0, 0.25, 0.5, 0.75, 1, 1.25], "grid": true, "gridWidth": {"condition": {"test": "datum.value % 0.5 === 0", "value": 1.6}, "value": 0.8}, "labels": false, "ticks": false, "title": null, "minExtent": 0, "maxExtent": 0}},
        "color": {"field": "type", "type": "nominal", "scale": {"domain": ["Bias Corr.", "Bootstrap", "MCMC", "MNorm"], "range": ["#3d3d3d", "#7b7b7b", "#a5a5a5", "#c6c6c6"]}, "legend": null},
        "shape": {"field": "type", "type": "nominal", "scale": {"domain": ["Bias Corr.", "Bootstrap", "MCMC", "MNorm"], "range": ["M-0.61,0A0.61,0.61 0 1,1 0.61,0A0.61,0.61 0 1,1 -0.61,0Z", "M0,-0.7L0.64,0.42L-0.64,0.42Z", "M-0.55,-0.55H0.55V0.55H-0.55Z", "M-1,-0.11H1V0.11H-1ZM-0.11,-1H0.11V1H-0.11Z"]}, "legend": null}}}
    ]},
   {"width": 37, "height": 209, "view": {"fill": "#d9d9d9", "stroke": "#333333"}, "data": {"values": [{"label": "bias"}]}, "mark": {"type": "text", "fontSize": 32, "color": "#1a1a1a", "angle": 90, "baseline": "middle"}, "encoding": {"text": {"field": "label"}}}
 ], "spacing": 0},
 {"width": 10, "height": 13, "data": {"values": []}, "mark": "text", "encoding": {}, "view": {"stroke": null}},
 {"hconcat": [
   {"width": 301, "height": 209,
    "transform": [{"filter": "datum.m === 'A' && datum.s === 'cv'"}],
    "resolve": {"scale": {"x": "independent"}, "axis": {"x": "independent"}},
    "layer": [
      {"mark": {"type": "rule", "opacity": 0}, "encoding": {"x": {"field": "year", "type": "quantitative", "scale": {"domain": [2001.1, 2014.9], "nice": false, "zero": false}, "axis": {"orient": "top", "values": [2002.5, 2005, 2007.5, 2010, 2012.5], "grid": true, "gridWidth": {"condition": {"test": "datum.value % 5 === 0", "value": 1.6}, "value": 0.8}, "labels": false, "ticks": false, "domain": false, "title": null, "minExtent": 0, "maxExtent": 0}}}},
      {"mark": {"type": "rule", "strokeWidth": 3}, "encoding": {
        "x": {"field": "year", "type": "ordinal", "scale": {"type": "band", "domain": [2002,2003,2004,2005,2006,2007,2008,2009,2010,2011,2012,2013,2014], "paddingInner": 0, "paddingOuter": 0.4}, "axis": {"orient": "bottom", "values": [2005, 2010], "bandPosition": 0.5, "grid": false, "labelAngle": 0, "labelPadding": 10, "title": null}},
        "xOffset": {"field": "type", "type": "nominal", "scale": {"type": "point", "domain": ["Bias Corr.", "Bootstrap", "MCMC", "MNorm"], "padding": 2.135}},
        "y": {"field": "lo", "type": "quantitative", "scale": {"domain": [0.014, 0.792], "nice": false, "zero": false}, "axis": {"values": [0.1, 0.2, 0.3, 0.4, 0.5, 0.6, 0.7], "grid": true, "gridWidth": {"condition": {"test": "round(datum.value * 10) % 2 === 0", "value": 1.6}, "value": 0.8}, "labelExpr": "round(datum.value * 10) % 2 === 0 ? format(datum.value, '.1f') : ''", "tickOpacity": {"condition": {"test": "round(datum.value * 10) % 2 === 0", "value": 1}, "value": 0}, "title": null, "minExtent": 62, "maxExtent": 62}},
        "y2": {"field": "hi"},
        "stroke": {"field": "type", "type": "nominal", "scale": {"domain": ["MNorm", "MCMC", "Bootstrap", "Bias Corr."], "range": ["#c6c6c6", "#a5a5a5", "#7b7b7b", "#3d3d3d"]}, "legend": null}}},
      {"mark": {"type": "point", "filled": true, "opacity": 1, "size": 324}, "encoding": {
        "x": {"field": "year", "type": "ordinal", "scale": {"type": "band", "domain": [2002,2003,2004,2005,2006,2007,2008,2009,2010,2011,2012,2013,2014], "paddingInner": 0, "paddingOuter": 0.4}, "axis": null},
        "xOffset": {"field": "type", "type": "nominal", "scale": {"type": "point", "domain": ["Bias Corr.", "Bootstrap", "MCMC", "MNorm"], "padding": 2.135}},
        "y": {"field": "est", "type": "quantitative", "scale": {"domain": [0.014, 0.792], "nice": false, "zero": false}, "axis": {"values": [0.1, 0.2, 0.3, 0.4, 0.5, 0.6, 0.7], "grid": true, "gridWidth": {"condition": {"test": "round(datum.value * 10) % 2 === 0", "value": 1.6}, "value": 0.8}, "labelExpr": "round(datum.value * 10) % 2 === 0 ? format(datum.value, '.1f') : ''", "tickOpacity": {"condition": {"test": "round(datum.value * 10) % 2 === 0", "value": 1}, "value": 0}, "title": null, "minExtent": 62, "maxExtent": 62}},
        "color": {"field": "type", "type": "nominal", "scale": {"domain": ["Bias Corr.", "Bootstrap", "MCMC", "MNorm"], "range": ["#3d3d3d", "#7b7b7b", "#a5a5a5", "#c6c6c6"]}, "legend": null},
        "shape": {"field": "type", "type": "nominal", "scale": {"domain": ["Bias Corr.", "Bootstrap", "MCMC", "MNorm"], "range": ["M-0.61,0A0.61,0.61 0 1,1 0.61,0A0.61,0.61 0 1,1 -0.61,0Z", "M0,-0.7L0.64,0.42L-0.64,0.42Z", "M-0.55,-0.55H0.55V0.55H-0.55Z", "M-1,-0.11H1V0.11H-1ZM-0.11,-1H0.11V1H-0.11Z"]}, "legend": null}}}
    ]},
   {"width": 12, "height": 209, "data": {"values": []}, "mark": "text", "encoding": {}, "view": {"stroke": null}},
   {"width": 301, "height": 209,
    "transform": [{"filter": "datum.m === 'B' && datum.s === 'cv'"}],
    "resolve": {"scale": {"x": "independent"}, "axis": {"x": "independent"}},
    "layer": [
      {"mark": {"type": "rule", "opacity": 0}, "encoding": {"x": {"field": "year", "type": "quantitative", "scale": {"domain": [2001.1, 2014.9], "nice": false, "zero": false}, "axis": {"orient": "top", "values": [2002.5, 2005, 2007.5, 2010, 2012.5], "grid": true, "gridWidth": {"condition": {"test": "datum.value % 5 === 0", "value": 1.6}, "value": 0.8}, "labels": false, "ticks": false, "domain": false, "title": null, "minExtent": 0, "maxExtent": 0}}}},
      {"mark": {"type": "rule", "strokeWidth": 3}, "encoding": {
        "x": {"field": "year", "type": "ordinal", "scale": {"type": "band", "domain": [2002,2003,2004,2005,2006,2007,2008,2009,2010,2011,2012,2013,2014], "paddingInner": 0, "paddingOuter": 0.4}, "axis": {"orient": "bottom", "values": [2005, 2010], "bandPosition": 0.5, "grid": false, "labelAngle": 0, "labelPadding": 10, "title": null}},
        "xOffset": {"field": "type", "type": "nominal", "scale": {"type": "point", "domain": ["Bias Corr.", "Bootstrap", "MCMC", "MNorm"], "padding": 2.135}},
        "y": {"field": "lo", "type": "quantitative", "scale": {"domain": [0.014, 0.792], "nice": false, "zero": false}, "axis": {"values": [0.1, 0.2, 0.3, 0.4, 0.5, 0.6, 0.7], "grid": true, "gridWidth": {"condition": {"test": "round(datum.value * 10) % 2 === 0", "value": 1.6}, "value": 0.8}, "labels": false, "ticks": false, "title": null, "minExtent": 0, "maxExtent": 0}},
        "y2": {"field": "hi"},
        "stroke": {"field": "type", "type": "nominal", "scale": {"domain": ["MNorm", "MCMC", "Bootstrap", "Bias Corr."], "range": ["#c6c6c6", "#a5a5a5", "#7b7b7b", "#3d3d3d"]}, "legend": null}}},
      {"mark": {"type": "point", "filled": true, "opacity": 1, "size": 324}, "encoding": {
        "x": {"field": "year", "type": "ordinal", "scale": {"type": "band", "domain": [2002,2003,2004,2005,2006,2007,2008,2009,2010,2011,2012,2013,2014], "paddingInner": 0, "paddingOuter": 0.4}, "axis": null},
        "xOffset": {"field": "type", "type": "nominal", "scale": {"type": "point", "domain": ["Bias Corr.", "Bootstrap", "MCMC", "MNorm"], "padding": 2.135}},
        "y": {"field": "est", "type": "quantitative", "scale": {"domain": [0.014, 0.792], "nice": false, "zero": false}, "axis": {"values": [0.1, 0.2, 0.3, 0.4, 0.5, 0.6, 0.7], "grid": true, "gridWidth": {"condition": {"test": "round(datum.value * 10) % 2 === 0", "value": 1.6}, "value": 0.8}, "labels": false, "ticks": false, "title": null, "minExtent": 0, "maxExtent": 0}},
        "color": {"field": "type", "type": "nominal", "scale": {"domain": ["Bias Corr.", "Bootstrap", "MCMC", "MNorm"], "range": ["#3d3d3d", "#7b7b7b", "#a5a5a5", "#c6c6c6"]}, "legend": null},
        "shape": {"field": "type", "type": "nominal", "scale": {"domain": ["Bias Corr.", "Bootstrap", "MCMC", "MNorm"], "range": ["M-0.61,0A0.61,0.61 0 1,1 0.61,0A0.61,0.61 0 1,1 -0.61,0Z", "M0,-0.7L0.64,0.42L-0.64,0.42Z", "M-0.55,-0.55H0.55V0.55H-0.55Z", "M-1,-0.11H1V0.11H-1ZM-0.11,-1H0.11V1H-0.11Z"]}, "legend": null}}}
    ]},
   {"width": 12, "height": 209, "data": {"values": []}, "mark": "text", "encoding": {}, "view": {"stroke": null}},
   {"width": 301, "height": 209,
    "transform": [{"filter": "datum.m === 'C' && datum.s === 'cv'"}],
    "resolve": {"scale": {"x": "independent"}, "axis": {"x": "independent"}},
    "layer": [
      {"mark": {"type": "rule", "opacity": 0}, "encoding": {"x": {"field": "year", "type": "quantitative", "scale": {"domain": [2001.1, 2014.9], "nice": false, "zero": false}, "axis": {"orient": "top", "values": [2002.5, 2005, 2007.5, 2010, 2012.5], "grid": true, "gridWidth": {"condition": {"test": "datum.value % 5 === 0", "value": 1.6}, "value": 0.8}, "labels": false, "ticks": false, "domain": false, "title": null, "minExtent": 0, "maxExtent": 0}}}},
      {"mark": {"type": "rule", "strokeWidth": 3}, "encoding": {
        "x": {"field": "year", "type": "ordinal", "scale": {"type": "band", "domain": [2002,2003,2004,2005,2006,2007,2008,2009,2010,2011,2012,2013,2014], "paddingInner": 0, "paddingOuter": 0.4}, "axis": {"orient": "bottom", "values": [2005, 2010], "bandPosition": 0.5, "grid": false, "labelAngle": 0, "labelPadding": 10, "title": null}},
        "xOffset": {"field": "type", "type": "nominal", "scale": {"type": "point", "domain": ["Bias Corr.", "Bootstrap", "MCMC", "MNorm"], "padding": 2.135}},
        "y": {"field": "lo", "type": "quantitative", "scale": {"domain": [0.014, 0.792], "nice": false, "zero": false}, "axis": {"values": [0.1, 0.2, 0.3, 0.4, 0.5, 0.6, 0.7], "grid": true, "gridWidth": {"condition": {"test": "round(datum.value * 10) % 2 === 0", "value": 1.6}, "value": 0.8}, "labels": false, "ticks": false, "title": null, "minExtent": 0, "maxExtent": 0}},
        "y2": {"field": "hi"},
        "stroke": {"field": "type", "type": "nominal", "scale": {"domain": ["MNorm", "MCMC", "Bootstrap", "Bias Corr."], "range": ["#c6c6c6", "#a5a5a5", "#7b7b7b", "#3d3d3d"]}, "legend": null}}},
      {"mark": {"type": "point", "filled": true, "opacity": 1, "size": 324}, "encoding": {
        "x": {"field": "year", "type": "ordinal", "scale": {"type": "band", "domain": [2002,2003,2004,2005,2006,2007,2008,2009,2010,2011,2012,2013,2014], "paddingInner": 0, "paddingOuter": 0.4}, "axis": null},
        "xOffset": {"field": "type", "type": "nominal", "scale": {"type": "point", "domain": ["Bias Corr.", "Bootstrap", "MCMC", "MNorm"], "padding": 2.135}},
        "y": {"field": "est", "type": "quantitative", "scale": {"domain": [0.014, 0.792], "nice": false, "zero": false}, "axis": {"values": [0.1, 0.2, 0.3, 0.4, 0.5, 0.6, 0.7], "grid": true, "gridWidth": {"condition": {"test": "round(datum.value * 10) % 2 === 0", "value": 1.6}, "value": 0.8}, "labels": false, "ticks": false, "title": null, "minExtent": 0, "maxExtent": 0}},
        "color": {"field": "type", "type": "nominal", "scale": {"domain": ["Bias Corr.", "Bootstrap", "MCMC", "MNorm"], "range": ["#3d3d3d", "#7b7b7b", "#a5a5a5", "#c6c6c6"]}, "legend": null},
        "shape": {"field": "type", "type": "nominal", "scale": {"domain": ["Bias Corr.", "Bootstrap", "MCMC", "MNorm"], "range": ["M-0.61,0A0.61,0.61 0 1,1 0.61,0A0.61,0.61 0 1,1 -0.61,0Z", "M0,-0.7L0.64,0.42L-0.64,0.42Z", "M-0.55,-0.55H0.55V0.55H-0.55Z", "M-1,-0.11H1V0.11H-1ZM-0.11,-1H0.11V1H-0.11Z"]}, "legend": null}}}
    ]},
   {"width": 37, "height": 209, "view": {"fill": "#d9d9d9", "stroke": "#333333"}, "data": {"values": [{"label": "cv"}]}, "mark": {"type": "text", "fontSize": 32, "color": "#1a1a1a", "angle": 90, "baseline": "middle"}, "encoding": {"text": {"field": "label"}}}
 ], "spacing": 0}
]
}
